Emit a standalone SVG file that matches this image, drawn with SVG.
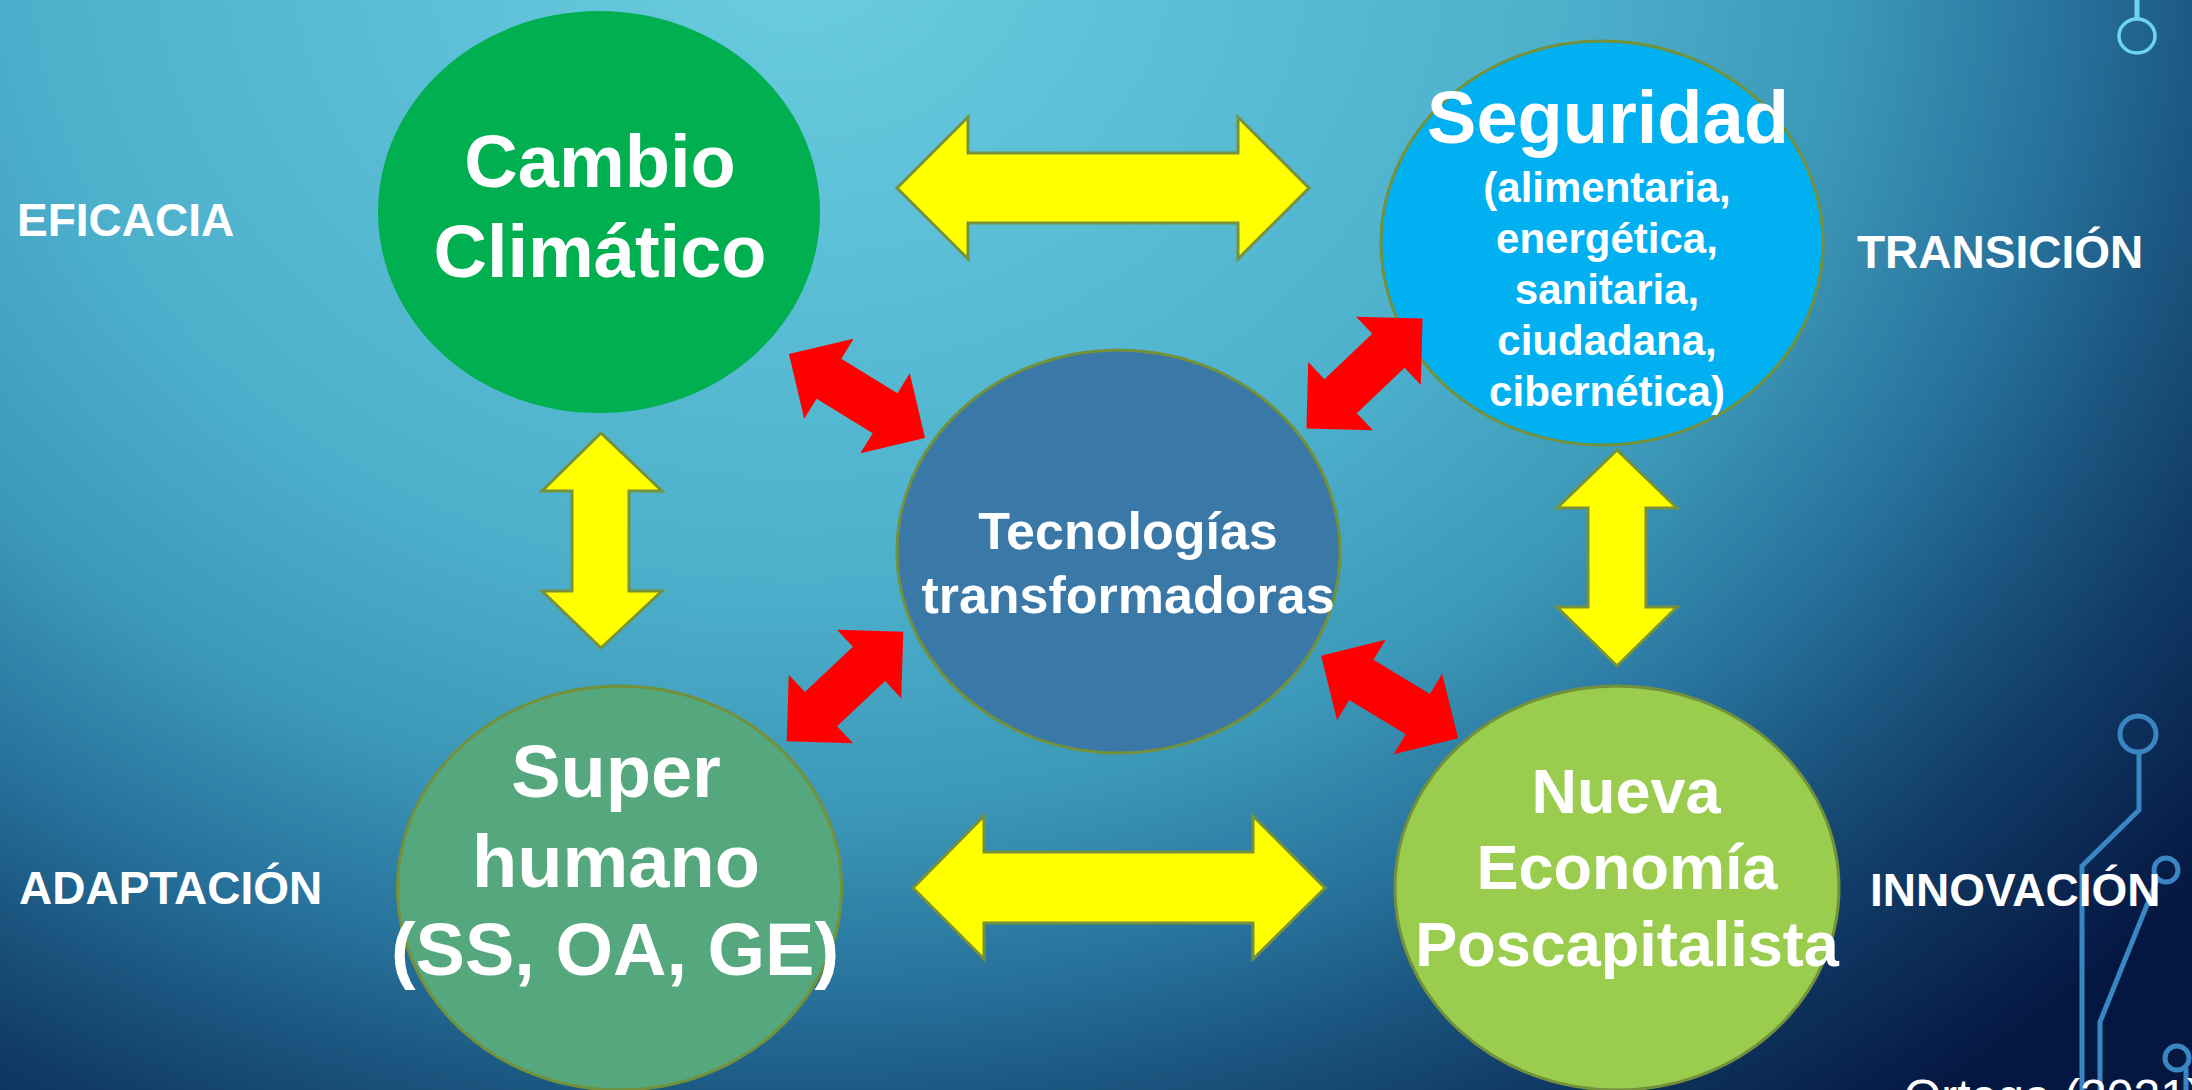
<svg xmlns="http://www.w3.org/2000/svg" xmlns:xlink="http://www.w3.org/1999/xlink" width="2192" height="1090" viewBox="0 0 2192 1090">
<defs>
<radialGradient id="bg" gradientUnits="userSpaceOnUse" cx="800" cy="-50" r="1480" gradientTransform="translate(800,-50) scale(1.22,1) translate(-800,50)">
<stop offset="0" stop-color="#6ACDE0"/>
<stop offset="0.42" stop-color="#4DB1CC"/>
<stop offset="0.58" stop-color="#3C98B8"/>
<stop offset="0.71" stop-color="#26709A"/>
<stop offset="0.78" stop-color="#1B5780"/>
<stop offset="0.86" stop-color="#113C67"/>
<stop offset="1" stop-color="#041741"/>
</radialGradient>
<polygon id="dbl" points="-80,0 -33,-47 -33,-23.5 33,-23.5 33,-47 80,0 33,47 33,23.5 -33,23.5 -33,47"/>
</defs>
<style>
.t{font-family:"Liberation Sans",Arial,sans-serif;font-weight:bold;fill:#FFFFFF;text-anchor:middle}
.lbl{font-family:"Liberation Sans",Arial,sans-serif;font-weight:bold;fill:#FFFFFF;font-size:46px}
.node{stroke:#72913A;stroke-width:3}
.yel{fill:#FFFF00;stroke:#76923C;stroke-width:3;stroke-linejoin:miter}
.red{fill:#FF0000}
.circ{fill:none;stroke:#3A86C2;stroke-width:5}
</style>
<rect x="0" y="0" width="2192" height="1090" fill="url(#bg)"/>

<g id="circuit">
<line x1="2137" y1="0" x2="2137" y2="18" stroke="#6ED6EC" stroke-width="5"/>
<ellipse cx="2137" cy="36" rx="18" ry="17" fill="none" stroke="#6ED6EC" stroke-width="3.5"/>
<ellipse cx="2138" cy="734" rx="18" ry="18" class="circ" stroke-width="4"/>
<polyline points="2139,752 2139,810 2082,866 2082,1090" class="circ"/>
<circle cx="2166" cy="870" r="12" class="circ" stroke-width="4"/>
<polyline points="2157,880 2100,1022 2100,1090" class="circ"/>
<circle cx="2177" cy="1058" r="12" class="circ" stroke-width="4"/>
<line x1="2186" y1="1068" x2="2186" y2="1090" class="circ"/>
</g>

<g id="labels">
<text class="lbl" x="17" y="236">EFICACIA</text>
<text class="lbl" x="19" y="904">ADAPTACIÓN</text>
<text class="lbl" x="1857" y="268">TRANSICIÓN</text>
<text class="lbl" x="1870" y="906">INNOVACIÓN</text>
<text x="1904" y="1113" font-family="'Liberation Sans',Arial,sans-serif" font-size="48" fill="#FFFFFF">Ortega (2021)</text>
</g>

<g id="node-cambio">
<ellipse cx="599" cy="212" rx="221" ry="201" fill="#00AF50"/>
<text class="t" x="600" y="187" font-size="74">Cambio</text>
<text class="t" x="600" y="277" font-size="74">Climático</text>
</g>

<g id="node-seguridad">
<ellipse cx="1602" cy="243" rx="221" ry="202" fill="#00B0F0" class="node"/>
<text class="t" x="1608" y="143" font-size="74">Seguridad</text>
<text class="t" x="1607" y="202" font-size="42">(alimentaria,</text>
<text class="t" x="1607" y="253" font-size="42">energética,</text>
<text class="t" x="1607" y="304" font-size="42">sanitaria,</text>
<text class="t" x="1607" y="355" font-size="42">ciudadana,</text>
<text class="t" x="1607" y="406" font-size="42">cibernética)</text>
</g>

<g id="node-tecnologias">
<ellipse cx="1118.5" cy="551.5" rx="221.5" ry="201.5" fill="#3A78A8" class="node"/>
<text class="t" x="1128" y="549" font-size="52">Tecnologías</text>
<text class="t" x="1128" y="613" font-size="52">transformadoras</text>
</g>

<g id="node-superhumano">
<ellipse cx="619.5" cy="888" rx="222" ry="202" fill="#55A87D" class="node"/>
<text class="t" x="616" y="797" font-size="74">Super</text>
<text class="t" x="616" y="887" font-size="74">humano</text>
<text class="t" x="615" y="975" font-size="74">(SS, OA, GE)</text>
</g>

<g id="node-economia">
<ellipse cx="1617" cy="888" rx="222" ry="202" fill="#9ACD4E" class="node"/>
<text class="t" x="1626" y="813" font-size="63">Nueva</text>
<text class="t" x="1627" y="889" font-size="63">Economía</text>
<text class="t" x="1627" y="966" font-size="63">Poscapitalista</text>
</g>

<g id="connectors">
<polygon class="yel" points="897,188 968,117 968,153 1238,153 1238,117 1309,188 1238,259 1238,223 968,223 968,259"/>
<polygon class="yel" points="913,888 984,816 984,852 1253,852 1253,816 1325,888 1253,959 1253,923 984,923 984,959"/>
<polygon class="yel" points="601,433 662,491 629,491 629,591 662,591 601,648 542,591 572,591 572,491 542,491"/>
<polygon class="yel" points="1617,450 1677,508 1646,508 1646,607 1677,607 1617,666 1557,607 1588,607 1588,508 1557,508"/>
<use xlink:href="#dbl" class="red" transform="translate(857,396) rotate(31.7)"/>
<use xlink:href="#dbl" class="red" transform="translate(1364.5,373.5) rotate(-43.5)"/>
<use xlink:href="#dbl" class="red" transform="translate(845,686.5) rotate(-43.2)"/>
<use xlink:href="#dbl" class="red" transform="translate(1389.6,697) rotate(31.1)"/>
</g>
</svg>
